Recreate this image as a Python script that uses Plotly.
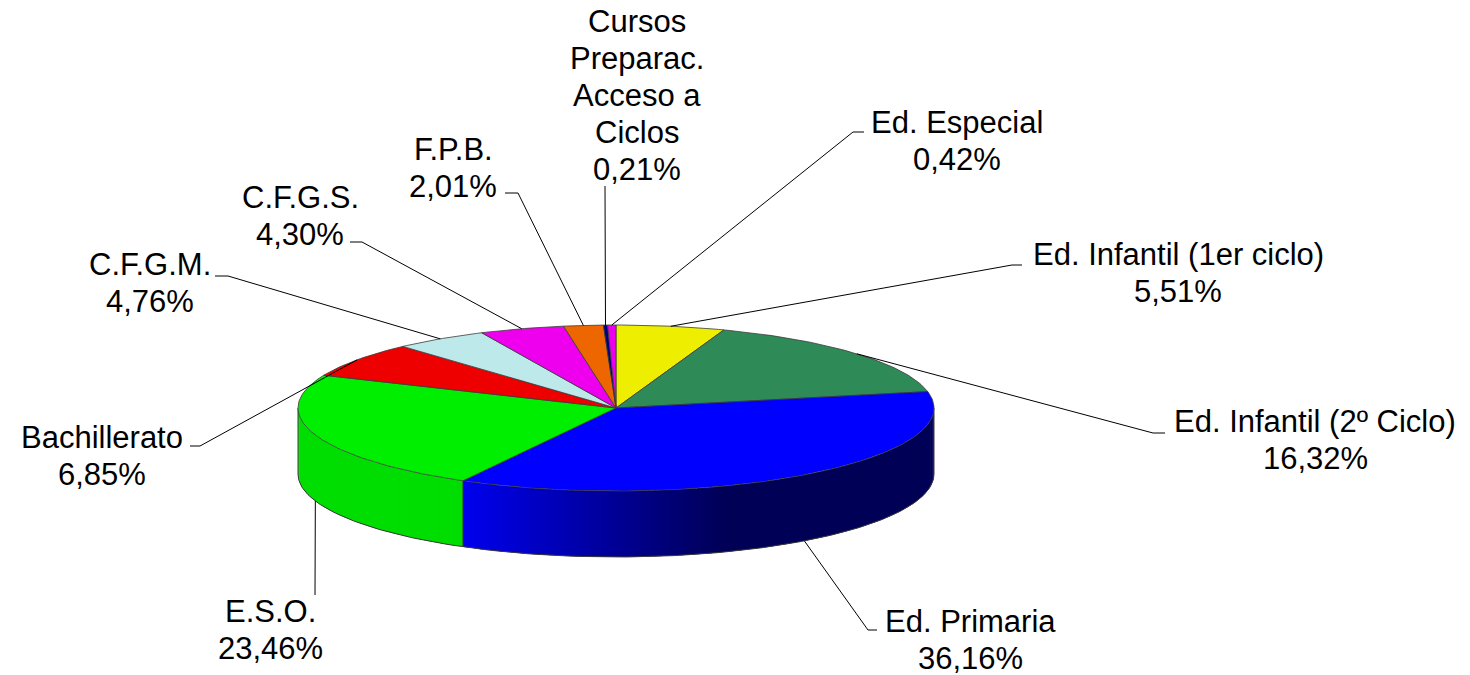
import numpy as np
import plotly.graph_objects as go

# ---------------- data ----------------
categories = ["Ed. Infantil (1er ciclo)", "Ed. Infantil (2º Ciclo)", "Ed. Primaria",
              "E.S.O.", "Bachillerato", "C.F.G.M.", "C.F.G.S.", "F.P.B.",
              "Cursos Preparac. Acceso a Ciclos", "Ed. Especial"]
values = [5.51, 16.32, 36.16, 23.46, 6.85, 4.76, 4.30, 2.01, 0.21, 0.42]
label_lines = [["Ed. Infantil (1er ciclo)"], ["Ed. Infantil (2º Ciclo)"], ["Ed. Primaria"],
               ["E.S.O."], ["Bachillerato"], ["C.F.G.M."], ["C.F.G.S."], ["F.P.B."],
               ["Cursos", "Preparac.", "Acceso a", "Ciclos"], ["Ed. Especial"]]
colors = ["#EEEE00", "#2E8B57", "#0000FF", "#00EE00", "#EE0000",
          "#BDE9EA", "#EE00EE", "#EE6600", "#000080", "#EE00EE"]

# ---------------- geometry / style (not data) ----------------
W, H = 1470, 675
CX, CY, RX, RY, DEPTH = 616, 408, 318, 83, 66
EDGE = "#3a3a3a"
FONT = dict(family="Liberation Sans, Arial, sans-serif", size=31, color="black")
LINE_GAP = 37

# label layout: text centre, elbow point, tick end
label_pos = [(1178, 273), (1315, 440), (970, 640), (270, 630), (102, 456),
             (150, 283), (300, 216), (453, 168), (637, 95), (957, 141)]
elbows = [(1012, 265), (1153, 433), (868, 630), (315, 595), (200, 446),
          (228, 276), (362, 242), (518, 193), (605, 186), (853, 132)]
tick_ends = [(1022, 265), (1165, 433), (877, 630), (315, 595), (190, 446),
             (215, 276), (350, 242), (505, 193), (605, 186), (864, 132)]


def pt(theta, dz=0.0):
    return CX + RX * np.sin(theta), CY - RY * np.cos(theta) + dz


def hex2rgb(h):
    h = h.lstrip("#")
    return tuple(int(h[i:i + 2], 16) for i in (0, 2, 4))


total = float(sum(values))
bounds = np.concatenate([[0.0], np.cumsum(values)]) / total * 2 * np.pi

fig = go.Figure()

# ---- side faces (front half: 90deg .. 270deg) with shading ----
lo_vis, hi_vis = np.pi / 2, 3 * np.pi / 2
side_boundaries = []
for i, c in enumerate(colors):
    a1, a2 = max(bounds[i], lo_vis), min(bounds[i + 1], hi_vis)
    if a2 <= a1:
        continue
    if lo_vis < bounds[i] < hi_vis:
        side_boundaries.append(bounds[i])
    base = hex2rgb(c)
    n = max(2, int(np.degrees(a2 - a1) / 1.0))
    edges = np.linspace(a1, a2, n + 1)
    step = edges[1] - edges[0]
    for k in range(n):
        t0, t1 = edges[k], edges[k + 1]
        tm = 0.5 * (t0 + t1)
        u = (1 - np.sin(tm)) / 2  # 0 at right, 1 at left
        b = float(np.clip(0.34 + (u - 0.33) * 1.45, 0.34, 0.93))
        col = "rgb(%d,%d,%d)" % tuple(int(v * b) for v in base)
        t1e = min(t1 + 0.8 * step, a2)
        ts = np.linspace(t0, t1e, 4)
        xs_top, ys_top = pt(ts)
        xs_bot, ys_bot = pt(ts[::-1], DEPTH)
        fig.add_trace(go.Scatter(
            x=np.concatenate([xs_top, xs_bot]), y=np.concatenate([ys_top, ys_bot]),
            fill="toself", fillcolor=col, mode="lines",
            line=dict(color=col, width=0), hoverinfo="skip", showlegend=False))

# side outline: bottom arc + vertical edges
ts = np.linspace(lo_vis, hi_vis, 200)
bx, by = pt(ts, DEPTH)
fig.add_trace(go.Scatter(x=bx, y=by, mode="lines", line=dict(color=EDGE, width=1),
                         hoverinfo="skip", showlegend=False))
for a in [lo_vis, hi_vis] + side_boundaries:
    x0, y0 = pt(a)
    x1, y1 = pt(a, DEPTH)
    fig.add_trace(go.Scatter(x=[x0, x1], y=[y0, y1], mode="lines",
                             line=dict(color=EDGE, width=1),
                             hoverinfo="skip", showlegend=False))

# ---- top face slices ----
for i, c in enumerate(colors):
    a1, a2 = bounds[i], bounds[i + 1]
    n = max(3, int(np.degrees(a2 - a1)))
    ts = np.linspace(a1, a2, n + 1)
    xs, ys = pt(ts)
    fig.add_trace(go.Scatter(
        x=np.concatenate([[CX], xs, [CX]]), y=np.concatenate([[CY], ys, [CY]]),
        fill="toself", fillcolor=c, mode="lines",
        line=dict(color=EDGE, width=0.8), name=categories[i],
        hoverinfo="skip", showlegend=False))

# ---- leader lines and labels ----
annotations = []
for i, v in enumerate(values):
    mid = 0.5 * (bounds[i] + bounds[i + 1])
    if lo_vis < mid < hi_vis:
        ax_, ay_ = pt(mid, DEPTH)
    else:
        ax_, ay_ = pt(mid)
    ex, ey = elbows[i]
    tx, ty = tick_ends[i]
    fig.add_trace(go.Scatter(x=[ax_, ex, tx], y=[ay_, ey, ty], mode="lines",
                             line=dict(color="black", width=1),
                             hoverinfo="skip", showlegend=False))
    pct = ("%.2f" % v).replace(".", ",") + "%"
    lines = label_lines[i] + [pct]
    lx, ly = label_pos[i]
    n = len(lines)
    for j, txt in enumerate(lines):
        annotations.append(dict(x=lx, y=ly + (j - (n - 1) / 2) * LINE_GAP,
                                xref="x", yref="y", showarrow=False, text=txt,
                                xanchor="center", yanchor="middle", align="center",
                                font=FONT))

fig.update_layout(
    width=W, height=H, autosize=False,
    margin=dict(l=0, r=0, t=0, b=0),
    paper_bgcolor="white", plot_bgcolor="white",
    xaxis=dict(range=[0, W], visible=False, fixedrange=True),
    yaxis=dict(range=[H, 0], visible=False, fixedrange=True),
    annotations=annotations,
    hovermode=False,
)

fig.write_html("out.html",
               config={"displayModeBar": False, "staticPlot": True},
               post_script="document.body.style.margin='0';"
                           "document.body.style.overflow='hidden';")
